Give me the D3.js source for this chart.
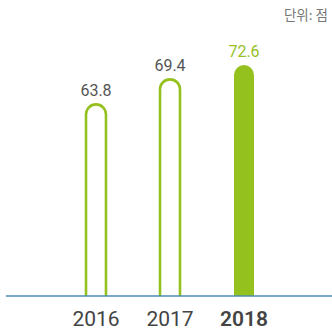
<!DOCTYPE html>
<html>
<head>
<meta charset="utf-8">
<script src="https://cdn.jsdelivr.net/npm/d3@7"></script>
<style>
  html, body { margin: 0; padding: 0; background: #fff; }
  svg { display: block; }
</style>
</head>
<body>
<svg id="chart" width="332" height="333"></svg>
<script>
// Scores by year
const years = ["2016", "2017", "2018"];
const scores = [63.8, 69.4, 72.6];
const valueLabels = ["63.8", "69.4", "72.6"];
const unitLabel = "단위: 점";

const W = 332, H = 333;
const baseY = 296;
const green = "#95c11f";

const svg = d3.select("#chart");

const x = d3.scaleBand()
  .domain(years)
  .range([49, 291])
  .paddingInner(0.73)
  .paddingOuter(0.5);

const y = d3.scaleLinear()
  .domain([21, 72.6])
  .range([baseY, 65]);

const data = years.map((yr, i) => ({ year: yr, value: scores[i], label: valueLabels[i], last: i === years.length - 1 }));

// Bar shape: straight sides with a half-round top
function barPath(d, closed) {
  const x0 = x(d.year), x1 = x0 + x.bandwidth();
  const r = x.bandwidth() / 2;
  const top = y(d.value);
  let p = `M${x0},${baseY} L${x0},${top + r} A${r},${r} 0 0 1 ${x1},${top + r} L${x1},${baseY}`;
  if (closed) p += " Z";
  return p;
}

// Earlier years drawn as outlines, the latest year filled
svg.selectAll("path.bar")
  .data(data)
  .join("path")
  .attr("class", "bar")
  .attr("d", d => barPath(d, d.last))
  .attr("fill", d => d.last ? green : "none")
  .attr("stroke", green)
  .attr("stroke-width", d => d.last ? 0 : 2.6);

// Value labels
svg.selectAll("text.val")
  .data(data)
  .join("text")
  .attr("class", "val")
  .attr("x", d => x(d.year) + x.bandwidth() / 2)
  .attr("y", d => y(d.value) - 8)
  .attr("text-anchor", "middle")
  .attr("font-family", "Roboto, 'DejaVu Sans', sans-serif")
  .attr("font-size", 16)
  .attr("fill", d => d.last ? green : "#555")
  .text(d => d.label);

// Baseline axis
const axis = d3.axisBottom(x).tickSize(0).tickPadding(15);
const gAxis = svg.append("g")
  .attr("transform", `translate(0,${baseY})`)
  .call(axis);
gAxis.select(".domain").remove();
gAxis.append("line")
  .attr("x1", 6).attr("x2", W)
  .attr("y1", 0).attr("y2", 0)
  .attr("stroke", "#4a8db5")
  .attr("stroke-width", 1.5);
gAxis.selectAll(".tick text")
  .attr("font-family", "Roboto, 'DejaVu Sans', sans-serif")
  .attr("font-size", 21)
  .attr("fill", "#444")
  .attr("font-weight", d => d === years[years.length - 1] ? 600 : "normal");

// Unit
svg.append("text")
  .attr("x", 328)
  .attr("y", 20)
  .attr("text-anchor", "end")
  .attr("font-family", "'Noto Sans CJK KR', sans-serif")
  .attr("font-size", 13.5)
  .attr("fill", "#777")
  .text(unitLabel);
</script>
</body>
</html>
